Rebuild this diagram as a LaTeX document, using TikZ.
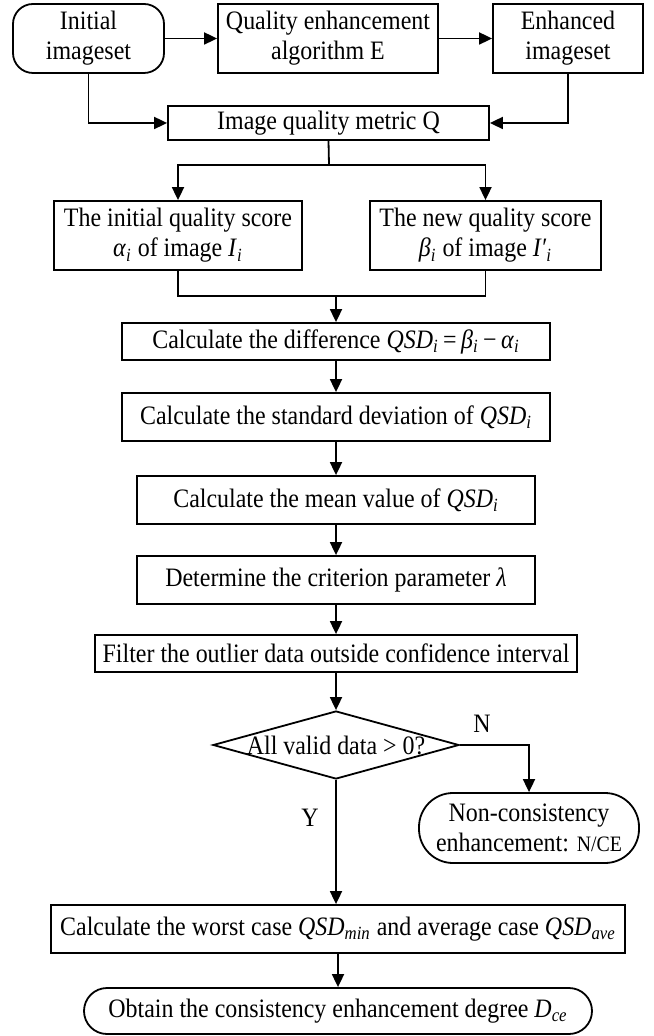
\documentclass[tikz,border=0pt]{standalone}
\usepackage{fontspec}
\setmainfont{Liberation Serif}[FakeStretch=0.9]
\usetikzlibrary{arrows.meta,shapes.geometric}
\newcommand{\lowit}[1]{\textsubscript{\textit{#1}}}
\begin{document}
\begin{tikzpicture}[x=0.5pt,y=-0.5pt,line width=0.9pt,
    >={Triangle[length=6.5pt,width=6pt]},
    every node/.style={font=\fontsize{13.3}{15}\selectfont,inner sep=1pt,align=center},
    stepbox/.style={draw,rectangle,minimum width=#1},
    roundbox/.style={draw,rectangle,rounded corners=#1},
    lbl/.style={font=\fontsize{13.3}{15}\selectfont}]
  \useasboundingbox (0,0) rectangle (653,1036);
  \draw
    (88.5,38.5) node[roundbox=10pt,minimum width=75.5pt,minimum height=34.5pt] (init){Initial\\imageset}
    (328,38.5) node[stepbox=110pt,minimum height=34.5pt] (algo){Quality enhancement\\algorithm E}
    (568,38.5) node[stepbox=75pt,minimum height=34.5pt] (enh){Enhanced\\imageset}
    (328.5,123) node[stepbox=160.5pt,minimum height=17pt] (metric){Image quality metric Q}
    (178,235.5) node[stepbox=124pt,minimum height=34.5pt] (score1){The initial quality score\\\textit{α}\lowit{i} of image \textit{I}\lowit{i}}
    (485.5,235.5) node[stepbox=115.5pt,minimum height=34.5pt] (score2){The new quality score\\\textit{β}\lowit{i} of image \textit{I′}\lowit{i}}
    (336,341.5) node[stepbox=214pt,minimum height=18.5pt] (diff){Calculate the difference \textit{QSD}\lowit{i}\,=\,\textit{β}\lowit{i}\,−\,\textit{α}\lowit{i}}
    (336,417) node[stepbox=214pt,minimum height=24pt] (std){Calculate the standard deviation of \textit{QSD}\lowit{i}}
    (336,500) node[stepbox=199pt,minimum height=24pt] (mean){Calculate the mean value of \textit{QSD}\lowit{i}}
    (336,580) node[stepbox=199pt,minimum height=24pt] (crit){Determine the criterion parameter \textit{λ}}
    (336,653.5) node[stepbox=241pt,minimum height=18.5pt] (filt){Filter the outlier data outside confidence interval}
    (336,745) node[draw,diamond,aspect=3.6,inner sep=0pt,minimum width=123pt,minimum height=34pt] (dec){\raisebox{-4.5pt}[0pt][0pt]{All valid data > 0?}}
    (529,828) node[roundbox=17pt,minimum width=110pt,minimum height=35pt] (nce){Non-consistency\\enhancement: {\fontsize{11}{12}\selectfont N/CE}}
    (338,929) node[stepbox=287pt,minimum height=24pt] (worst){Calculate the worst case \textit{QSD}\lowit{min} and average case \textit{QSD}\lowit{ave}}
    (338,1011) node[roundbox=11.5pt,minimum width=254pt,minimum height=23pt] (obtain){Obtain the consistency enhancement degree \textit{D}\lowit{ce}};
  \node[lbl] (lblN) at (482,724) {N};
  \node[lbl] (lblY) at (310,818) {Y};
  \coordinate (split) at (329,165);
  \coordinate (merge) at (336,296);
  \begin{scope}[->]
    \draw (init) to (algo);
    \draw (algo) to (enh);
    \draw (init.south) |- (metric.west);
    \draw (enh.south) |- (metric.east);
    \draw[-] (metric.south) to (split);
    \draw (split) -| (score1.north);
    \draw (split) -| (score2.north);
    \draw[-] (score1.south) |- (merge);
    \draw[-] (score2.south) |- (merge);
    \draw (merge) to (diff.north);
    \draw (diff) to (std);
    \draw (std) to (mean);
    \draw (mean) to (crit);
    \draw (crit) to (filt);
    \draw (filt.south) to (dec.north);
    \draw (dec.east) -| (nce.north);
    \draw (dec.south) to (dec.south |- worst.north);
    \draw (worst) to (obtain);
  \end{scope}
\end{tikzpicture}
\end{document}
